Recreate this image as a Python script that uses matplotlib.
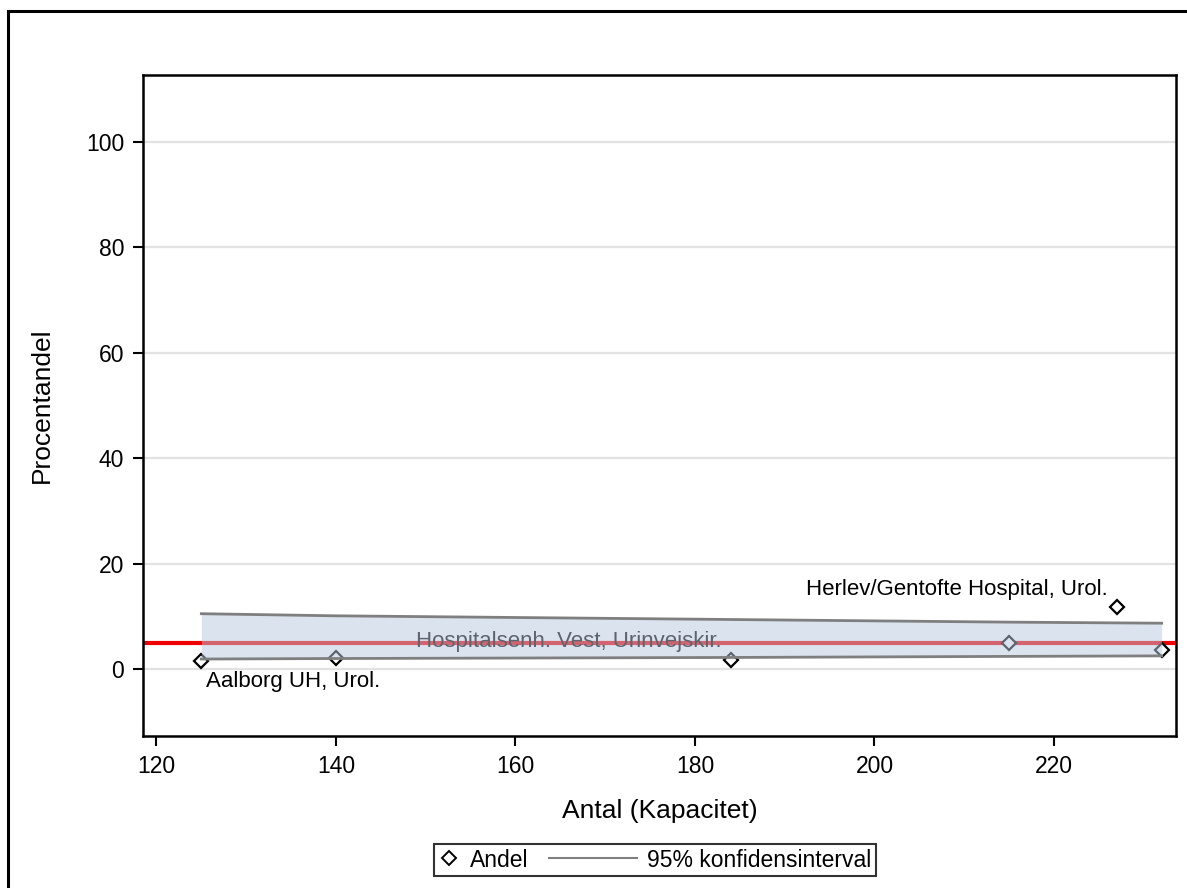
import matplotlib
matplotlib.use("Agg")
import matplotlib.pyplot as plt
from matplotlib.lines import Line2D
from matplotlib.patches import Rectangle
from matplotlib.legend_handler import HandlerLine2D

plt.rcParams['font.family'] = ['Liberation Sans', 'DejaVu Sans']

# Hospital departments: capacity (x) and share in percent (y)
antal = [125, 140, 184, 215, 227, 232]
andel = [1.5, 2.1, 1.7, 5.0, 11.8, 3.6]
labels = ["Aalborg UH, Urol.", "", "Hospitalsenh. Vest, Urinvejskir.", "",
          "Herlev/Gentofte Hospital, Urol.", ""]

# 95% confidence limits around the reference level
ci_x = [125, 140, 184, 215, 232]
ci_upper = [10.5, 10.1, 9.4, 8.9, 8.7]
ci_lower = [1.9, 2.0, 2.2, 2.4, 2.5]
reference_level = 5.0

x_ticks = [120, 140, 160, 180, 200, 220]
y_ticks = [0, 20, 40, 60, 80, 100]


class LongLineHandler(HandlerLine2D):
    """Draws the legend line reaching back into the column gap."""

    def __init__(self, extra, **kw):
        super().__init__(**kw)
        self.extra = extra

    def create_artists(self, legend, orig_handle, xdescent, ydescent, width, height,
                       fontsize, trans):
        y = height / 2 - ydescent
        line = Line2D([-xdescent - self.extra, width - xdescent], [y, y],
                      color=orig_handle.get_color(), lw=orig_handle.get_linewidth())
        line.set_transform(trans)
        return [line]


W, H = 1187, 888
fig = plt.figure(figsize=(W / 100, H / 100), dpi=100)
ax = fig.add_axes([143 / W, 1 - 736 / H, (1176 - 143) / W, (736 - 75) / H])

ax.set_xlim(118.5, 233.6)
ax.set_ylim(-12.7, 112.7)
ax.set_xticks(x_ticks)
ax.set_yticks(y_ticks)
ax.tick_params(axis='both', labelsize=16.5, length=7.5, width=1.5, direction='out', pad=6)
for s in ax.spines.values():
    s.set_linewidth(1.8)
    s.set_color('black')

for yv in y_ticks:
    ax.axhline(yv, color='#e2e2e2', lw=1.6, zorder=0)

ax.axhline(reference_level, color='#ee0000', lw=3, zorder=1)

ax.plot(antal, andel, linestyle='none', marker='D', ms=7.5, mfc='white',
        mec='black', mew=1.6, zorder=2)

offsets = {0: ((5, -20), 'left'), 2: ((-9, 19), 'right'), 4: ((-9, 17), 'right')}
for i, lab in enumerate(labels):
    if not lab:
        continue
    (dx, dy), ha = offsets[i]
    ax.annotate(lab, (antal[i], andel[i]), xytext=(dx, dy), textcoords='offset pixels',
                ha=ha, va='center', fontsize=16, color='black', zorder=2)

ax.fill_between(ci_x, ci_lower, ci_upper, color=(185 / 255, 200 / 255, 222 / 255),
                alpha=0.5, lw=0, zorder=3)
ax.plot(ci_x, ci_upper, color='#7f7f7f', lw=2, zorder=4)
ax.plot(ci_x, ci_lower, color='#7f7f7f', lw=2, zorder=4)

ax.set_xlabel("Antal (Kapacitet)", fontsize=19)
ax.set_ylabel("Procentandel", fontsize=19)
ax.xaxis.set_label_coords(0.5, (736 - 799) / 661)
ax.yaxis.set_label_coords((54 - 143) / 1033, 0.5)

marker_handle = Line2D([], [], linestyle='none', marker='D', ms=7, mfc='white',
                       mec='black', mew=1.4)
line_handle = Line2D([], [], color='#7f7f7f', lw=1.5)
leg = fig.legend([marker_handle, line_handle], ["Andel", "95% konfidensinterval"],
                 loc='center', bbox_to_anchor=(655 / W, 1 - 860 / H), ncol=2,
                 fontsize=16.5, frameon=True, fancybox=False, edgecolor='black',
                 handlelength=0.9, columnspacing=3.82, handletextpad=0.45,
                 borderpad=0.2, borderaxespad=0,
                 handler_map={line_handle: LongLineHandler(extra=48.5)})
leg.get_frame().set_linewidth(1.5)
leg.get_frame().set_facecolor('white')

fig.patches.append(Rectangle((8 / W, -0.2), 1.3, 1 - 11 / H + 0.2, transform=fig.transFigure,
                             fill=False, edgecolor='black', lw=2.2, clip_on=False))

fig.savefig("out.png", dpi=100, facecolor='white')
